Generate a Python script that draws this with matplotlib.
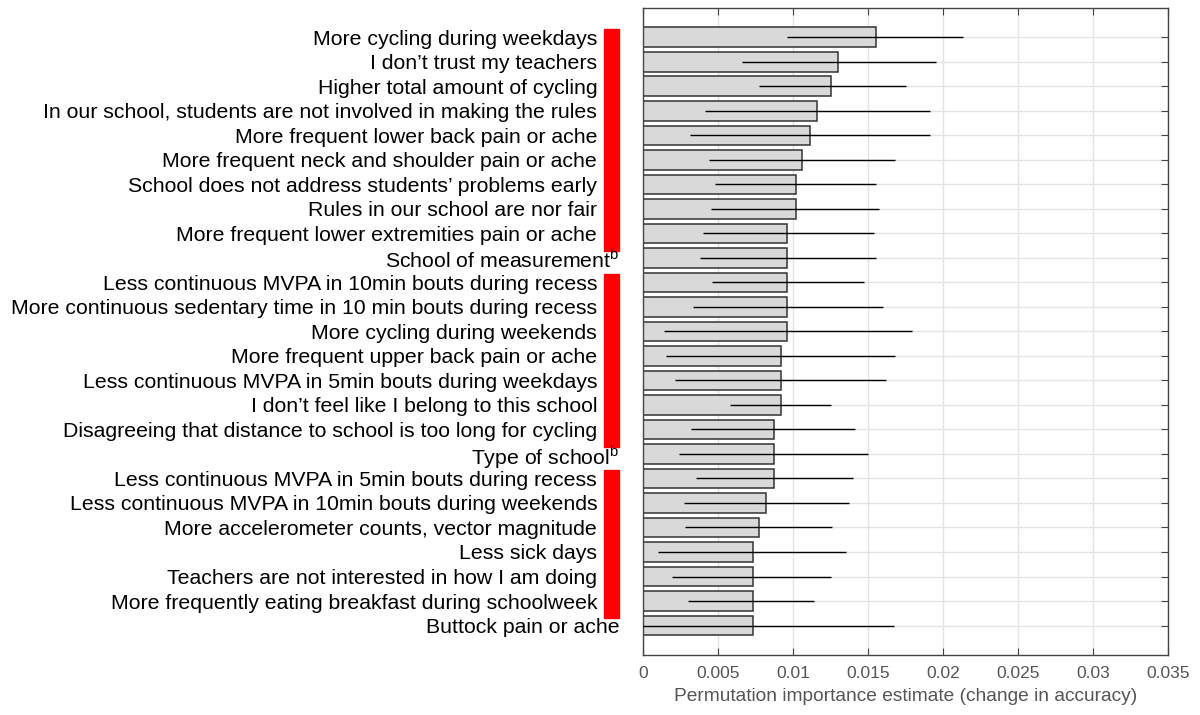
import matplotlib
matplotlib.use("Agg")
import matplotlib.pyplot as plt
import matplotlib.transforms as mtransforms

plt.rcParams["font.family"] = ["Liberation Sans", "DejaVu Sans"]
plt.rcParams["mathtext.fontset"] = "custom"
plt.rcParams["mathtext.rm"] = "Liberation Sans"

# Feature names (top to bottom)
labels = [
    "More cycling during weekdays",
    "I don’t trust my teachers",
    "Higher total amount of cycling",
    "In our school, students are not involved in making the rules",
    "More frequent lower back pain or ache",
    "More frequent neck and shoulder pain or ache",
    "School does not address students’ problems early",
    "Rules in our school are nor fair",
    "More frequent lower extremities pain or ache",
    "School of measurement$^{\\mathrm{b}}$",
    "Less continuous MVPA in 10min bouts during recess",
    "More continuous sedentary time in 10 min bouts during recess",
    "More cycling during weekends",
    "More frequent upper back pain or ache",
    "Less continuous MVPA in 5min bouts during weekdays",
    "I don’t feel like I belong to this school",
    "Disagreeing that distance to school is too long for cycling",
    "Type of school$^{\\mathrm{b}}$",
    "Less continuous MVPA in 5min bouts during recess",
    "Less continuous MVPA in 10min bouts during weekends",
    "More accelerometer counts, vector magnitude",
    "Less sick days",
    "Teachers are not interested in how I am doing",
    "More frequently eating breakfast during schoolweek",
    "Buttock pain or ache",
]

# Permutation importance estimate and interval ends
importance = [0.0155, 0.0130, 0.0125, 0.0116, 0.0111, 0.0106, 0.0102, 0.0102,
              0.0096, 0.0096, 0.0096, 0.0096, 0.0096, 0.0092, 0.0092, 0.0092,
              0.0087, 0.0087, 0.0087, 0.0082, 0.0077, 0.0073, 0.0073, 0.0073,
              0.0073]
lower = [0.0096, 0.0066, 0.0077, 0.0041, 0.0031, 0.0044, 0.0048, 0.0045,
         0.0040, 0.0038, 0.0046, 0.0033, 0.0014, 0.0015, 0.0021, 0.0058,
         0.0032, 0.0024, 0.0035, 0.0027, 0.0028, 0.0010, 0.0019, 0.0030,
         -0.0021]
upper = [0.0213, 0.0195, 0.0175, 0.0191, 0.0191, 0.0168, 0.0155, 0.0157,
         0.0154, 0.0155, 0.0147, 0.0160, 0.0179, 0.0168, 0.0162, 0.0125,
         0.0141, 0.0150, 0.0140, 0.0137, 0.0126, 0.0135, 0.0125, 0.0114,
         0.0167]

# Highlighted groups (first and last row, 1-based)
red_groups = [(1, 9), (11, 17), (19, 24)]

xticks = [0, 0.005, 0.01, 0.015, 0.02, 0.025, 0.03, 0.035]
xticklabels = ["0", "0.005", "0.01", "0.015", "0.02", "0.025", "0.03", "0.035"]

ypos = list(range(1, len(labels) + 1))
err_lo = [m - lo for m, lo in zip(importance, lower)]
err_hi = [hi - m for m, hi in zip(importance, upper)]
in_red = set()
for first, last in red_groups:
    in_red.update(range(first, last + 1))

fig = plt.figure(figsize=(12, 7.15), dpi=100)
ax = fig.add_axes([0.536, 0.084, 0.4375, 0.905])

ax.barh(ypos, importance, height=0.8, color="#d9d9d9", edgecolor="#333333",
        linewidth=1.1, zorder=2)
ax.errorbar(importance, ypos, xerr=[err_lo, err_hi], fmt="none",
            ecolor="black", elinewidth=1.0, capsize=0, zorder=3)

ax.set_xlim(0, 0.035)
ax.set_ylim(26.2, -0.2)
ax.set_xticks(xticks)
ax.set_xticklabels(xticklabels, color="#555555", fontsize=12.5)
ax.set_yticks(ypos)
ax.set_yticklabels([])
ax.tick_params(axis="y", direction="in", length=5, left=True, right=True,
               color="#444444")
ax.tick_params(axis="x", direction="in", length=5, pad=8, top=True,
               bottom=True, color="#444444")
ax.grid(True, color="#e3e3e3", linewidth=1.0, zorder=0)
ax.set_axisbelow(True)
for sp in ax.spines.values():
    sp.set_color("#444444")
    sp.set_linewidth(1.0)

ax.set_xlabel("Permutation importance estimate (change in accuracy)",
              color="#555555", fontsize=13.8, labelpad=5)

# Row labels: rows next to a red marker end left of it
trans = mtransforms.blended_transform_factory(ax.transAxes, ax.transData)
for y, name in zip(ypos, labels):
    dx = -33.1 if y in in_red else -17.3
    ax.annotate(name, xy=(0, y), xycoords=trans, xytext=(dx, 0),
                textcoords="offset points", ha="right", va="center_baseline",
                fontsize=15.3, annotation_clip=False)

# Red group markers left of the axes
for first, last in red_groups:
    rect = plt.Rectangle((-0.0743, first - 0.35), 0.0291,
                         (last + 0.7) - (first - 0.35),
                         transform=trans, color="red", clip_on=False, zorder=1)
    ax.add_patch(rect)

fig.savefig("out.png", dpi=100)
